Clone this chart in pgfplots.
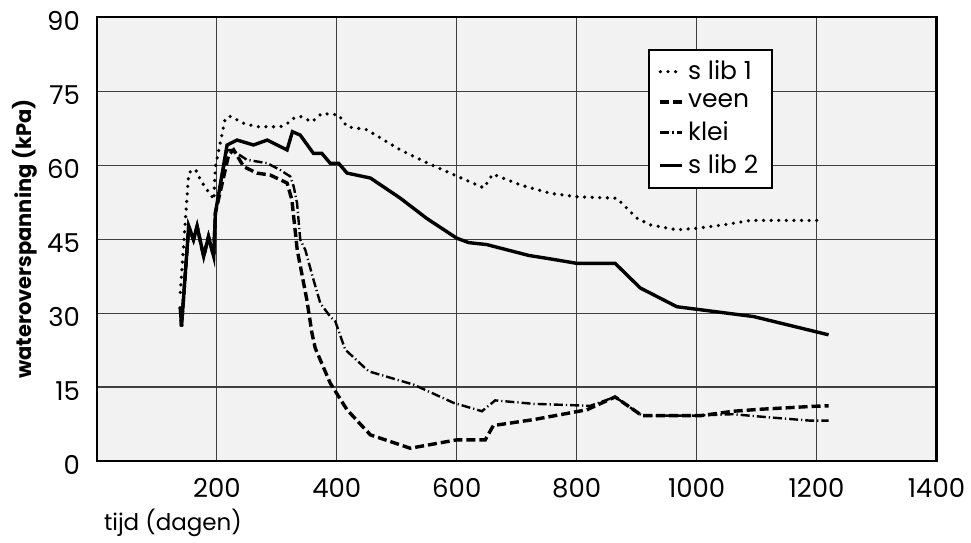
\documentclass[border=0pt]{standalone}
\usepackage{fontspec}
\setmainfont{Poppins}
\usepackage{pgfplots}
\pgfplotsset{compat=1.18}
\definecolor{plotbg}{RGB}{242,242,242}

\begin{document}
\begin{tikzpicture}
  \begin{axis}[
      name=ax,
      scale only axis,
      width=420pt, height=222pt,
      xmin=0, xmax=1400,
      ymin=0, ymax=90,
      xtick={200,400,600,800,1000,1200,1400},
      ytick={0,15,30,45,60,75,90},
      xmajorgrids=true, ymajorgrids=true,
      grid style={black!75, line width=0.6pt},
      axis line style={line width=1.1pt},
      axis background/.style={fill=plotbg},
      tick style={draw=none},
      /pgf/number format/assume math mode=true,
      /pgf/number format/1000 sep={},
      tick label style={font=\fontsize{13}{15}\selectfont},
      xticklabel style={yshift=-5pt},
      yticklabel style={xshift=-5pt, yshift=-2pt},
      xlabel={tijd (dagen)},
      xlabel style={at={(axis description cs:0,0)}, anchor=west,
        yshift=-31pt, font=\fontsize{11.5}{13}\selectfont},
      ylabel={wateroverspanning (kPa)},
      ylabel style={at={(axis description cs:-0.086,0.5)}, anchor=center,
        font=\fontsize{10.5}{12}\selectfont\bfseries},
      legend image code/.code={\draw[#1] (0pt,0pt) -- (11pt,0pt);},
      legend style={at={(axis description cs:0.656,0.929)}, anchor=north west,
        draw=black, line width=0.9pt, fill=white,
        font=\fontsize{12.5}{14}\selectfont,
        row sep=1.5pt, inner xsep=5pt, inner ysep=3.5pt},
      legend cell align=left,
    ]
    % s lib 1
    \addplot[black, line width=1.8pt, line cap=round, dash pattern=on 0pt off 3.8pt] coordinates {
      (139,34.2) (153,58.4) (161,59.2) (167,58.7) (172.5,57) (183.6,55) (192,53.6) (195,53)
      (197.5,59.7) (214,69.5) (222.5,69.9) (244.7,68.5) (267,67.8) (306,67.8) (322.5,68.8)
      (328,69.5) (339,69.9) (358.6,68.8) (375,70.5) (403,70.2) (417,67.8) (450,67.2)
      (506,63.1) (550,60.5) (600,57.8) (645,55.4) (660,58.2) (706,56) (756,54.3) (800,53.6)
      (867,53.3) (900,49.3) (922.5,47.9) (967,46.9) (1000,47.2) (1045,47.9) (1089,48.8) (1211,48.8)
    };
    \addlegendentry{s lib 1}
    % veen
    \addplot[black, line width=1.7pt, dash pattern=on 4.5pt off 2pt] coordinates {
      (139,31.3) (141,27.3) (153,47.6) (161,44.9) (167,47.6) (178,41.5) (186,45.5) (194.7,41.5)
      (197.5,50.3) (219.7,62.1) (228,63.1) (244.7,59.7) (267,58.4) (289,58.0) (317,56.4)
      (325,53) (334,42.8) (350,32.7) (358.6,25.9) (364,22.9) (389,15.8) (417,10.4) (456,5.3)
      (522.5,2.6) (600,4.3) (647.5,4.3) (661,7.2) (728,8.4) (817,10.4) (864,13) (909,9.2)
      (1006,9.2) (1061,10.1) (1106,10.5) (1195,11.1) (1220,11.2)
    };
    \addlegendentry{veen}
    % klei
    \addplot[black, line width=1.2pt, dash pattern=on 4.5pt off 1.5pt on 0.6pt off 1.5pt] coordinates {
      (139,31.3) (141,27.3) (153,47.6) (161,44.9) (167,47.6) (178,41.5) (186,45.5) (194.7,41.5)
      (197.5,50.3) (217,63) (225,63.1) (250,61.1) (284,60.4) (306,59) (322.5,57.7) (328,55.7)
      (333.7,52.3) (339,44.9) (347.5,42.8) (361,36.8) (372.5,32) (389,29.3) (397.5,28.3)
      (414,22.6) (453,18.2) (528,15.5) (594.7,11.8) (642,10.1) (664,12.3) (728,11.6)
      (822.5,11.2) (864,13) (909,9.2) (994,9.2) (1060,9.5) (1117,8.9) (1189,8.2) (1220,8.2)
    };
    \addlegendentry{klei}
    % s lib 2
    \addplot[black, line width=1.7pt] coordinates {
      (139,31.3) (141,27.3) (153,47.6) (161,44.9) (167,47.6) (178,41.5) (186,45.5) (194.7,41.5)
      (197.5,50.3) (217,64.1) (233.7,65.1) (261,64.1) (284,65.1) (317,63.1) (326,66.8)
      (339,66.1) (361,62.4) (375,62.4) (389,60.4) (403,60.4) (417,58.4) (456,57.4) (506,53.3)
      (550,49.2) (600,45.2) (620,44.3) (650,43.9) (720,41.7) (756,41) (800,40.1) (864,40.1)
      (906,35.1) (967,31.3) (1095,29.3) (1220,25.6)
    };
    \addlegendentry{s lib 2}
  \end{axis}
  \pgfresetboundingbox
  \path (ax.south west) ++(-48.5pt,-40.5pt) coordinate (bl);
  \path (ax.north east) ++(17.25pt,8.65pt) coordinate (tr);
  \path (bl) rectangle (tr);
\end{tikzpicture}
\end{document}
